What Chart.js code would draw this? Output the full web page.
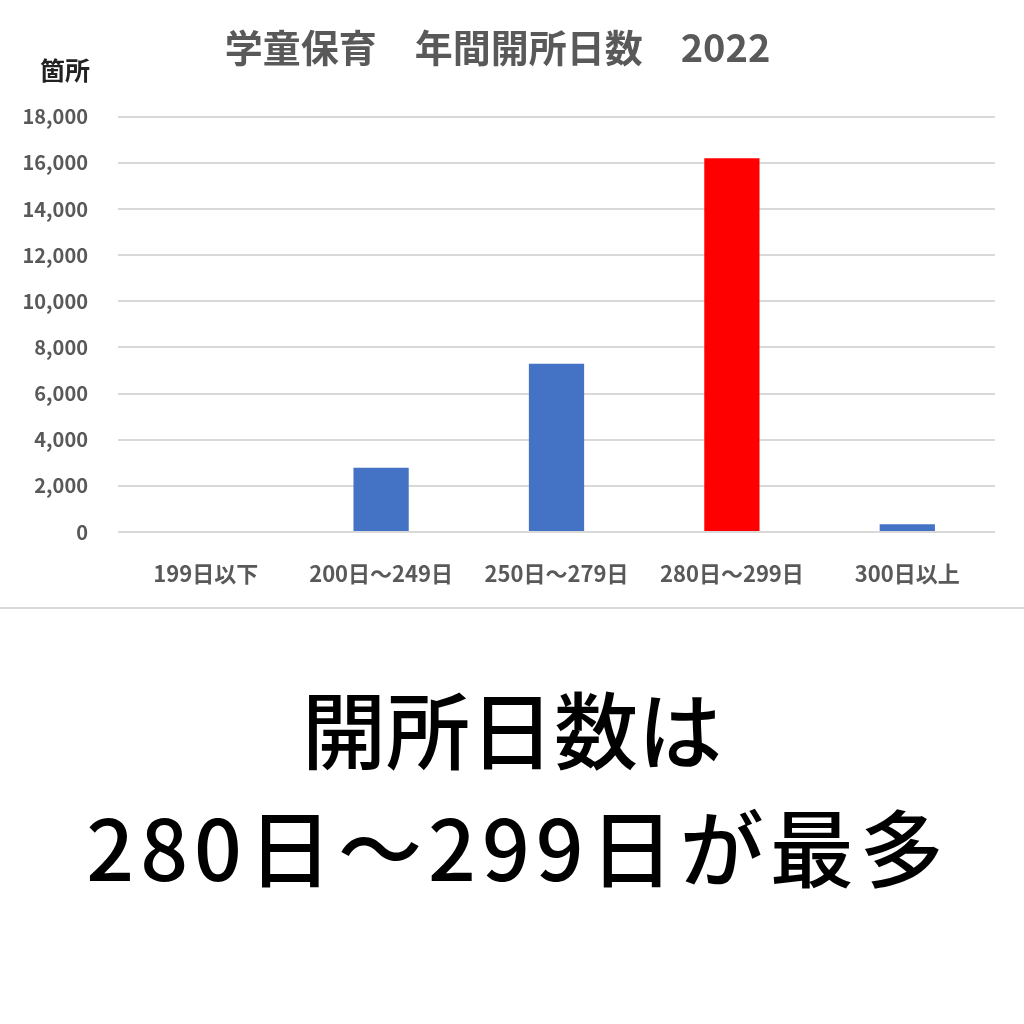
<!DOCTYPE html>
<html lang="ja">
<head>
    <meta charset="UTF-8">
    <title>学童保育　年間開所日数　2022</title>
    <script src="https://cdn.jsdelivr.net/npm/chart.js"></script>
    <style>
        html, body { margin: 0; padding: 0; background: #fff; }
        body { width: 1024px; height: 1024px; overflow: hidden; font-family: "Noto Sans CJK JP", sans-serif; }
        .chart-box { position: relative; width: 1024px; height: 607px; border-bottom: 2px solid #d9d9d9; }
        .caption { text-align: center; color: #000; font-weight: 500; font-size: 84px; }
        .caption .l1 { position: absolute; left: 0; width: 1024px; top: 672px; line-height: 110px; }
        .caption .l2 { position: absolute; left: 6px; width: 1024px; top: 790px; line-height: 110px; letter-spacing: 6px; }
    </style>
</head>
<body>
    <div class="chart-box">
        <canvas id="openDaysChart" width="1024" height="607"></canvas>
    </div>
    <div class="caption">
        <div class="l1">開所日数は</div>
        <div class="l2">280日～299日が最多</div>
    </div>

    <script>
        // categories and values
        const categories = ['199日以下', '200日～249日', '250日～279日', '280日～299日', '300日以上'];
        const counts = [0, 2780, 7290, 16200, 340];
        const yTicks = [0, 2000, 4000, 6000, 8000, 10000, 12000, 14000, 16000, 18000];

        const BLUE = '#4472C4';
        const RED = '#FF0000';
        const GREY = '#595959';
        const FONT = '"Noto Sans CJK JP", sans-serif';

        const maxVal = Math.max(...counts);
        const barColors = counts.map(v => v === maxVal ? RED : BLUE);

        // small unit label above the y axis
        const unitLabel = {
            id: 'unitLabel',
            afterDraw(chart) {
                const c = chart.ctx;
                c.save();
                c.font = 'bold 25px ' + FONT;
                c.fillStyle = '#222';
                c.textAlign = 'center';
                c.textBaseline = 'middle';
                c.fillText('箇所', 65, 70);
                c.restore();
            }
        };

        const ctx = document.getElementById('openDaysChart').getContext('2d');
        new Chart(ctx, {
            type: 'bar',
            data: {
                labels: categories,
                datasets: [{
                    data: counts,
                    backgroundColor: barColors,
                    barPercentage: 0.63,
                    categoryPercentage: 0.5
                }]
            },
            options: {
                responsive: false,
                animation: false,
                layout: { padding: { left: 0, right: 29, top: 0, bottom: 0 } },
                plugins: {
                    legend: { display: false },
                    tooltip: { enabled: false },
                    title: {
                        display: true,
                        text: '学童保育　年間開所日数　2022',
                        color: GREY,
                        font: { family: FONT, size: 38, weight: 'bold' },
                        padding: { top: 25, bottom: 46 }
                    }
                },
                scales: {
                    x: {
                        afterFit(scale) { scale.height = 75; },
                        grid: { display: false, drawTicks: false },
                        border: { display: false },
                        ticks: {
                            color: GREY,
                            padding: 28,
                            maxRotation: 0,
                            autoSkip: false,
                            font: { family: FONT, size: 22, weight: 'bold' }
                        }
                    },
                    y: {
                        min: 0,
                        max: 18000,
                        afterFit(scale) { scale.width = 118; },
                        afterBuildTicks(scale) { scale.ticks = yTicks.map(v => ({ value: v })); },
                        grid: { color: '#d9d9d9', lineWidth: 2, drawTicks: false },
                        border: { display: false },
                        ticks: {
                            color: GREY,
                            padding: 30,
                            font: { family: FONT, size: 20, weight: 'bold' },
                            callback: v => v.toLocaleString('en-US')
                        }
                    }
                }
            },
            plugins: [unitLabel]
        });
    </script>
</body>
</html>
